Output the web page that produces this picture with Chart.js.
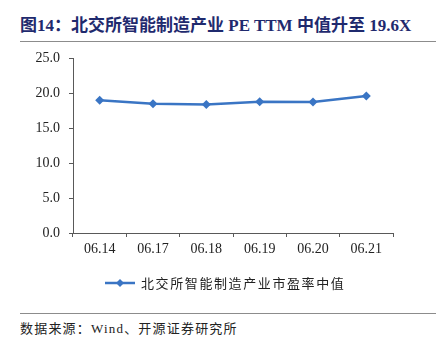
<!DOCTYPE html>
<html>
<head>
<meta charset="utf-8">
<script src="https://cdn.jsdelivr.net/npm/chart.js@4.4.0/dist/chart.umd.min.js"></script>
<style>
    body { margin: 0; width: 436px; height: 346px; background: #fff; position: relative; overflow: hidden; }
    #title {
        position: absolute; left: 20px; top: 11px; white-space: nowrap;
        font: bold 17px "Liberation Serif", "Noto Sans CJK SC", serif; color: #1f2a6e;
    }
    .rule { position: absolute; left: 20px; right: 0; height: 1px; background: #8c8c8c; }
    #chart-wrap { position: absolute; left: 0; top: 41px; width: 436px; height: 259px; }
    #source {
        position: absolute; left: 20px; top: 318px; white-space: nowrap;
        font: 13px "Liberation Serif", "Noto Sans CJK SC", serif; color: #222; letter-spacing: 1.2px;
    }
</style>
</head>
<body>
<div id="title">图14：北交所智能制造产业 PE TTM 中值升至 19.6X</div>
<div id="chart-wrap"><canvas id="myChart" width="436" height="259"></canvas></div>
<div class="rule" style="top:41px"></div>
<div class="rule" style="top:313px"></div>
<div id="source">数据来源：Wind、开源证券研究所</div>
<script>
    // Dates and PE TTM median values
    const dates = ['06.14', '06.17', '06.18', '06.19', '06.20', '06.21'];
    const peMedian = [19.0, 18.5, 18.4, 18.8, 18.75, 19.6];
    const seriesName = '北交所智能制造产业市盈率中值';
    const lineColor = '#3a75c4';

    // Legend: short line with a diamond, then the series name
    const legendPlugin = {
        id: 'lineLegend',
        afterDraw(chart) {
            const ctx = chart.ctx;
            const y = 242;
            ctx.save();
            ctx.strokeStyle = lineColor;
            ctx.lineWidth = 2.5;
            ctx.beginPath();
            ctx.moveTo(105, y);
            ctx.lineTo(135, y);
            ctx.stroke();
            ctx.fillStyle = lineColor;
            ctx.beginPath();
            ctx.moveTo(120, y - 4);
            ctx.lineTo(124, y);
            ctx.lineTo(120, y + 4);
            ctx.lineTo(116, y);
            ctx.closePath();
            ctx.fill();
            ctx.fillStyle = '#222';
            ctx.font = '13px "Noto Sans CJK SC", sans-serif';
            ctx.textBaseline = 'middle';
            // spread the characters evenly across the legend text width
            let x = 141;
            for (const ch of seriesName) {
                ctx.fillText(ch, x, y);
                x += 14.6;
            }
            ctx.restore();
        }
    };

    new Chart('myChart', {
        type: 'line',
        data: {
            labels: dates,
            datasets: [{
                label: seriesName,
                data: peMedian,
                borderColor: lineColor,
                backgroundColor: lineColor,
                borderWidth: 2.5,
                pointStyle: 'rectRot',
                pointRadius: 4.5,
                pointBorderWidth: 0,
                tension: 0
            }]
        },
        options: {
            responsive: false,
            animation: false,
            layout: { padding: { left: 0, right: 43, top: 17, bottom: 0 } },
            plugins: {
                legend: { display: false },
                tooltip: { enabled: false }
            },
            scales: {
                x: {
                    offset: true,
                    grid: { offset: true, drawOnChartArea: false, drawTicks: true, tickLength: 4, color: '#595959' },
                    border: { color: '#595959', width: 1 },
                    ticks: { color: '#222', padding: 4, font: { family: '"Liberation Serif", serif', size: 14 } },
                    afterFit(scale) { scale.height = 67; }
                },
                y: {
                    min: 0,
                    max: 25,
                    grid: { drawOnChartArea: false, drawTicks: true, tickLength: 4, color: '#595959' },
                    border: { color: '#595959', width: 1 },
                    ticks: {
                        stepSize: 5,
                        color: '#222',
                        padding: 9,
                        font: { family: '"Liberation Serif", serif', size: 14 },
                        callback: v => v.toFixed(1)
                    },
                    afterFit(scale) { scale.width = 73; }
                }
            }
        },
        plugins: [legendPlugin]
    });
</script>
</body>
</html>
